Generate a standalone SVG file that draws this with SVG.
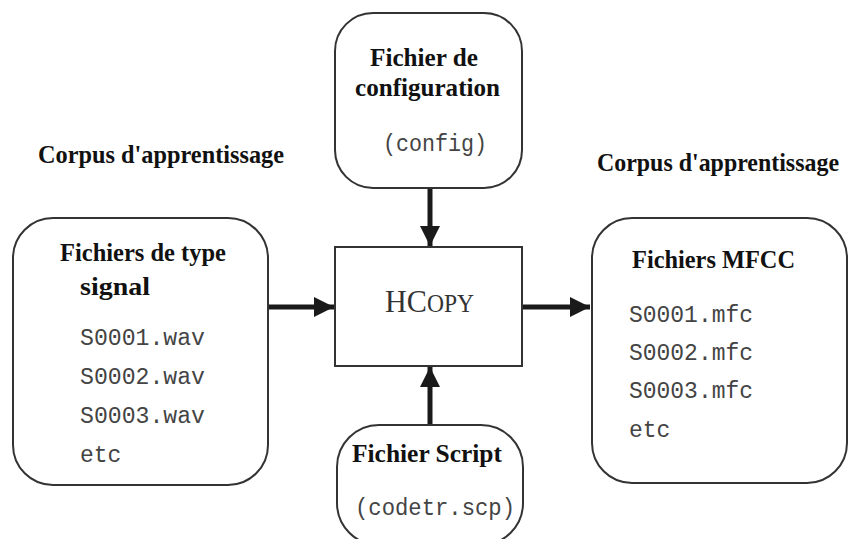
<svg xmlns="http://www.w3.org/2000/svg" width="849" height="539" viewBox="0 0 849 539">
<defs>
<style>
.box{fill:#fff;stroke:#333;stroke-width:2}
.title{font-family:"Liberation Serif",serif;font-weight:bold;font-size:25px;fill:#111}
.mono{font-family:"Liberation Mono",monospace;font-size:23px;fill:#444}
.conn{stroke:#1a1a1a;stroke-width:5;fill:none}
.hc{font-family:"Liberation Serif",serif;fill:#333}
</style>
<marker id="ah" viewBox="0 0 10 10" refX="10" refY="5" markerWidth="4.4" markerHeight="4" orient="auto" markerUnits="strokeWidth">
<path d="M0,0 L10,5 L0,10 z" fill="#1a1a1a"/>
</marker>
</defs>
<rect width="849" height="539" fill="#fff"/>
<text class="title" x="38" y="163" textLength="246" lengthAdjust="spacingAndGlyphs">Corpus d'apprentissage</text>
<text class="title" x="597" y="171" textLength="242" lengthAdjust="spacingAndGlyphs">Corpus d'apprentissage</text>
<g id="connectors">
<line class="conn" x1="268" y1="307" x2="334" y2="307" marker-end="url(#ah)"/>
<line class="conn" x1="523" y1="307" x2="590" y2="307" marker-end="url(#ah)"/>
<line class="conn" x1="430" y1="188" x2="430" y2="246" marker-end="url(#ah)"/>
<line class="conn" x1="430" y1="424" x2="430" y2="367" marker-end="url(#ah)"/>
</g>
<g id="signal">
<rect class="box" x="13" y="218" width="255" height="267" rx="40"/>
<text class="title" x="60" y="261" textLength="166" lengthAdjust="spacingAndGlyphs">Fichiers de type</text>
<text class="title" x="80" y="295" textLength="70" lengthAdjust="spacingAndGlyphs">signal</text>
<text class="mono" x="80" y="345" textLength="125" lengthAdjust="spacingAndGlyphs">S0001.wav</text>
<text class="mono" x="80" y="384" textLength="125" lengthAdjust="spacingAndGlyphs">S0002.wav</text>
<text class="mono" x="80" y="423" textLength="125" lengthAdjust="spacingAndGlyphs">S0003.wav</text>
<text class="mono" x="80" y="462">etc</text>
</g>
<g id="config">
<rect class="box" x="335" y="13" width="187" height="175" rx="38"/>
<text class="title" x="370" y="66" textLength="108" lengthAdjust="spacingAndGlyphs">Fichier de</text>
<text class="title" x="355" y="96" textLength="145" lengthAdjust="spacingAndGlyphs">configuration</text>
<text class="mono" x="383" y="151" textLength="104" lengthAdjust="spacingAndGlyphs">(config)</text>
</g>
<g id="hcopy">
<rect class="box" x="335" y="247" width="187" height="119"/>
<text class="hc" x="385" y="312" font-size="32" textLength="89" lengthAdjust="spacingAndGlyphs">HC<tspan font-size="25">OPY</tspan></text>
</g>
<g id="script">
<rect class="box" x="337" y="425" width="186" height="120" rx="42"/>
<text class="title" x="352" y="462" textLength="150" lengthAdjust="spacingAndGlyphs">Fichier Script</text>
<text class="mono" x="355" y="515" textLength="160" lengthAdjust="spacingAndGlyphs">(codetr.scp)</text>
</g>
<g id="mfcc">
<rect class="box" x="592" y="218" width="255" height="265" rx="40"/>
<text class="title" x="632" y="268" textLength="163" lengthAdjust="spacingAndGlyphs">Fichiers MFCC</text>
<text class="mono" x="629" y="322" textLength="124" lengthAdjust="spacingAndGlyphs">S0001.mfc</text>
<text class="mono" x="629" y="360" textLength="124" lengthAdjust="spacingAndGlyphs">S0002.mfc</text>
<text class="mono" x="629" y="398" textLength="124" lengthAdjust="spacingAndGlyphs">S0003.mfc</text>
<text class="mono" x="629" y="437">etc</text>
</g>
</svg>
